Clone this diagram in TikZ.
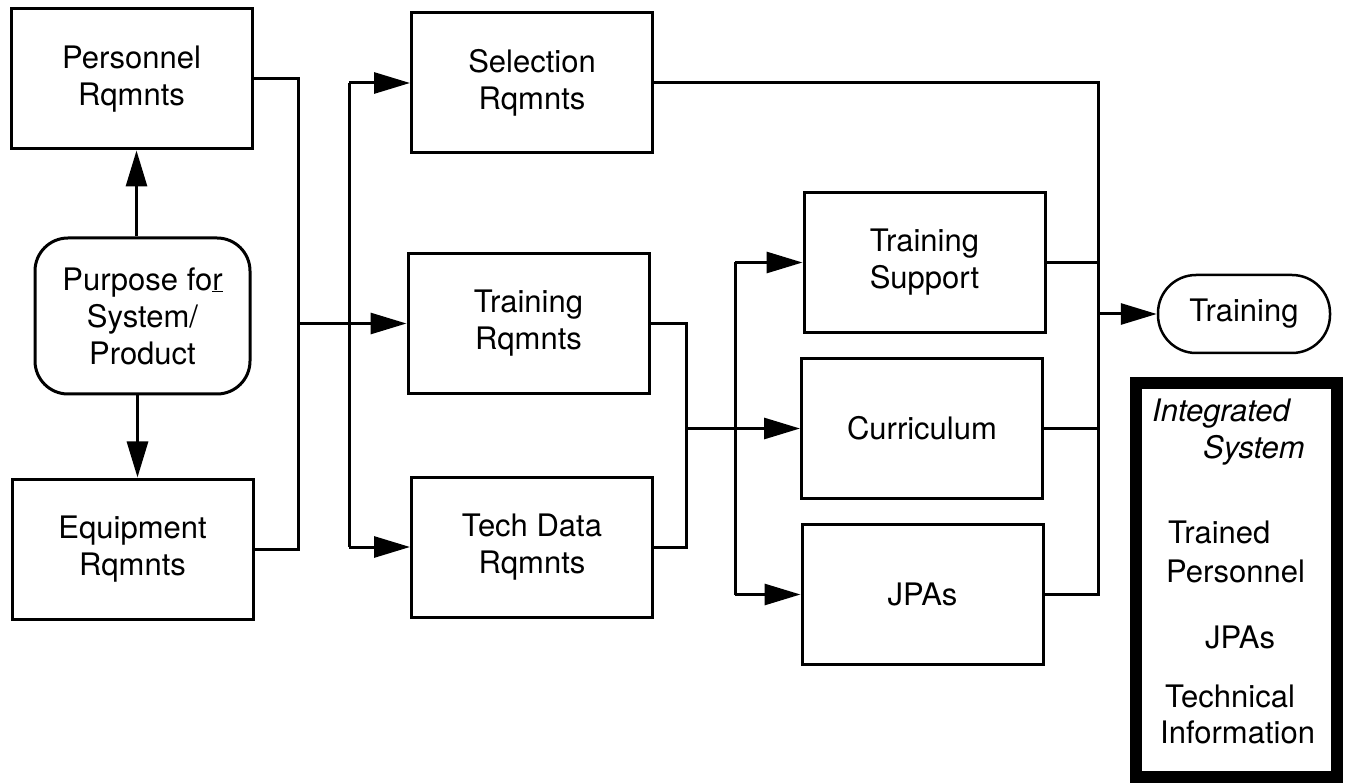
\documentclass[tikz,border=0pt]{standalone}
\usepackage{fontspec}
\setmainfont{TeX Gyre Heros}
\usetikzlibrary{arrows.meta}
\begin{document}
\begin{tikzpicture}[x=1pt,y=-1pt,
  txt/.style={font=\fontsize{31}{37}\selectfont},
  box/.style={draw, line width=3pt, minimum width=241pt, minimum height=140pt, inner sep=0pt, align=center, txt},
  rbox/.style={draw, line width=3pt, inner sep=0pt, align=center, txt},
  ln/.style={line width=3pt, line join=miter},
  arr/.style={line width=3pt, line join=miter, -{Triangle[length=36pt,width=21pt]}},
  lbl/.style={anchor=base west, inner sep=0pt, txt}]
\useasboundingbox (0,0) rectangle (1347,783);

% nodes
\node[box] (pers) at (131.5,79) {Personnel\\Rqmnts};
\node[box] (equip) at (132.5,549) {Equipment\\Rqmnts};
\node[rbox, rounded corners=33pt, minimum width=215pt, minimum height=156pt] (purp) at (142.5,316) {Purpose fo\underline{r}\\System/\\Product};
\node[box] (sel) at (532,83) {Selection\\Rqmnts};
\node[box] (tr) at (528.5,323.5) {Training\\Rqmnts};
\node[box] (td) at (532,547) {Tech Data\\Rqmnts};
\node[box] (ts) at (924.5,262.5) {Training\\Support};
\node[box] (cur) at (922,428.5) {Curriculum};
\node[box] (jpa) at (922.5,594.5) {JPAs};
\node[rbox, rounded corners=38pt, line width=2.5pt, minimum width=172pt, minimum height=78pt] (trn) at (1244,314) {Training};

% integrated system box
\node[draw, line width=12pt, minimum width=201pt, minimum height=394pt, inner sep=0pt] (intsys) at (1236.5,580) {};
\node[lbl, font=\fontsize{31}{37}\selectfont\itshape] (t1) at (1152,422) {Integrated};
\node[lbl, font=\fontsize{31}{37}\selectfont\itshape] (t2) at (1203,458) {System};
\node[lbl] (t3) at (1168,543) {Trained};
\node[lbl] (t4) at (1166,582) {Personnel};
\node[lbl] (t5) at (1205,648) {JPAs};
\node[lbl] (t6) at (1165,707) {Technical};
\node[lbl] (t7) at (1160,743) {Information};

% bus coordinates
\coordinate (b1) at (298,0);
\coordinate (b2) at (349,0);
\coordinate (b3) at (686,0);
\coordinate (b4) at (735,0);
\coordinate (b5) at (1098,0);

% connectors
\draw[arr] ([xshift=-6pt]purp.north) -- ([xshift=-6pt]purp.north |- pers.south);
\draw[arr] ([xshift=-5pt]purp.south) -- ([xshift=-5pt]purp.south |- equip.north);

\draw[ln] (pers.east) -| (b1 |- equip.east) -- (equip.east);
\draw[arr] (b1 |- tr.west) -- (tr.west);

\draw[ln] (b2 |- sel.west) -- (b2 |- td.west);
\draw[arr] (b2 |- sel.west) -- (sel.west);
\draw[arr] (b2 |- td.west) -- (td.west);

\draw[ln] (tr.east) -| (b3 |- td.east) -- (td.east);
\draw[arr] (b3 |- cur.west) -- (cur.west);

\draw[ln] (b4 |- ts.west) -- (b4 |- jpa.west);
\draw[arr] (b4 |- ts.west) -- (ts.west);
\draw[arr] (b4 |- jpa.west) -- (jpa.west);

\draw[ln] (sel.east) -| (b5 |- jpa.east) -- (jpa.east);
\draw[ln] (ts.east) -- (b5 |- ts.east);
\draw[ln] (cur.east) -- (b5 |- cur.east);
\draw[arr] (b5 |- trn.west) -- (trn.west);
\end{tikzpicture}
\end{document}
